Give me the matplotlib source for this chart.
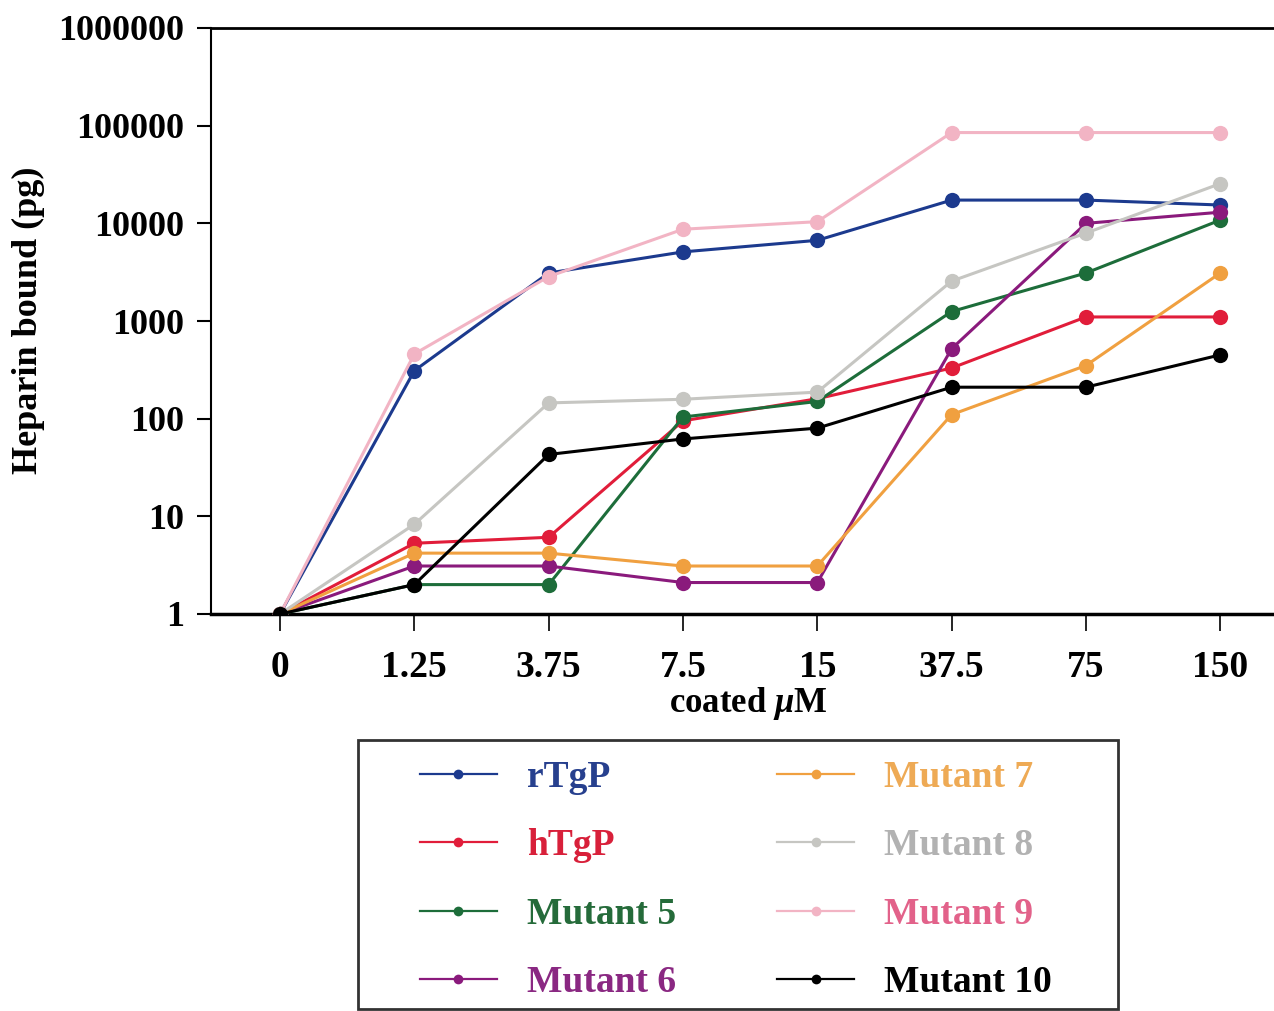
import matplotlib
matplotlib.use("Agg")
import matplotlib.pyplot as plt
from matplotlib.lines import Line2D
from matplotlib.patches import Rectangle

# ---- data ----
x_labels = ["0", "1.25", "3.75", "7.5", "15", "37.5", "75", "150"]
y_ticks = [1, 10, 100, 1000, 10000, 100000, 1000000]
y_tick_labels = ["1", "10", "100", "1000", "10000", "100000", "1000000"]

series_names = ["rTgP", "hTgP", "Mutant 5", "Mutant 6",
                "Mutant 7", "Mutant 8", "Mutant 9", "Mutant 10"]

rTgP = [1, 310, 3100, 5100, 6700, 17300, 17300, 15400]
hTgP = [1, 5.3, 6.1, 95, 160, 330, 1100, 1100]
mutant5 = [1, 2, 2, 104, 150, 1250, 3100, 10800]
mutant6 = [1, 3.1, 3.1, 2.1, 2.1, 520, 10000, 13000]
mutant7 = [1, 4.2, 4.2, 3.1, 3.1, 110, 350, 3100]
mutant8 = [1, 8.3, 145, 158, 187, 2560, 7950, 25500]
mutant9 = [1, 460, 2850, 8700, 10400, 85000, 85000, 85000]
mutant10 = [1, 2, 43, 62, 80, 210, 210, 450]

line_colors = ["#1c3a8e", "#e11d3a", "#1d6d3a", "#8a1a7c",
               "#f0a040", "#c6c6c2", "#f2b4c4", "#000000"]
text_colors = ["#27408e", "#d8203a", "#256b3a", "#8a2882",
               "#eeaa55", "#b2b2b2", "#e2628a", "#000000"]

all_series = [rTgP, hTgP, mutant5, mutant6, mutant7, mutant8, mutant9, mutant10]

W, H = 1274, 1011
fig = plt.figure(figsize=(W / 100, H / 100), dpi=100)
serif = ["Liberation Serif", "DejaVu Serif"]
plt.rcParams["font.family"] = serif
plt.rcParams["font.weight"] = "bold"
plt.rcParams["mathtext.fontset"] = "custom"
plt.rcParams["mathtext.rm"] = "Liberation Serif:bold"
plt.rcParams["mathtext.it"] = "Liberation Serif:italic:bold"
plt.rcParams["mathtext.bf"] = "Liberation Serif:bold"

ax = fig.add_axes([211 / W, 1 - 614 / H, (W - 211) / W, (614 - 28) / H])

xpos = list(range(len(x_labels)))
draw_order = [6, 5, 0, 1, 2, 4, 3, 7]
for i in draw_order:
    ax.plot(xpos, all_series[i], color=line_colors[i], lw=2.2,
            marker="o", markersize=11, markeredgewidth=0,
            label=series_names[i], zorder=3 + i * 0.1)

ax.set_yscale("log")
ax.set_ylim(1, 1000000)
ax.set_xlim(-0.514, 7.40)
ax.set_yticks(y_ticks)
ax.set_yticklabels(y_tick_labels)
ax.minorticks_off()
ax.set_xticks(xpos)
ax.set_xticklabels(x_labels)

for lab in ax.get_yticklabels():
    lab.set_fontsize(26)
    lab.set_fontweight("bold")
for lab in ax.get_xticklabels():
    lab.set_fontsize(27)
    lab.set_fontweight("bold")

ax.tick_params(axis="y", direction="out", length=10, width=1.5, pad=9)
ax.tick_params(axis="x", direction="out", length=12, width=1.2, pad=14)
ax.spines["right"].set_visible(False)
ax.spines["left"].set_linewidth(1.5)
ax.spines["top"].set_linewidth(2.0)
ax.spines["bottom"].set_linewidth(2.5)

fig.text(28 / W, 1 - 320 / H, "Heparin bound (pg)", rotation=90,
         ha="center", va="center", fontsize=26, fontweight="bold")
fig.text(748 / W, 1 - 703 / H, r"coated $\mu$M", ha="center", va="center",
         fontsize=25, fontweight="bold")

# ---- legend ----
leg_handles = [Line2D([0], [0], color=line_colors[i], lw=1.6, marker="o",
                      markersize=7, markeredgewidth=0) for i in range(8)]
leg = fig.legend(leg_handles, series_names,
                 ncol=2, loc="upper left",
                 bbox_to_anchor=(420 / W, 1 - 760 / H),
                 frameon=False, handlelength=2.05, handletextpad=0.8,
                 labelspacing=0.89, borderpad=0, borderaxespad=0,
                 columnspacing=2.7,
                 prop={"family": serif, "weight": "bold", "size": 27})
for t, c in zip(leg.get_texts(), text_colors):
    t.set_color(c)

fig.patches.append(Rectangle((358 / W, 1 - 1009 / H), (1118 - 358) / W,
                             (1009 - 740) / H, transform=fig.transFigure,
                             fill=False, edgecolor="#333333", linewidth=2.0))

fig.savefig("out.png", dpi=100)
